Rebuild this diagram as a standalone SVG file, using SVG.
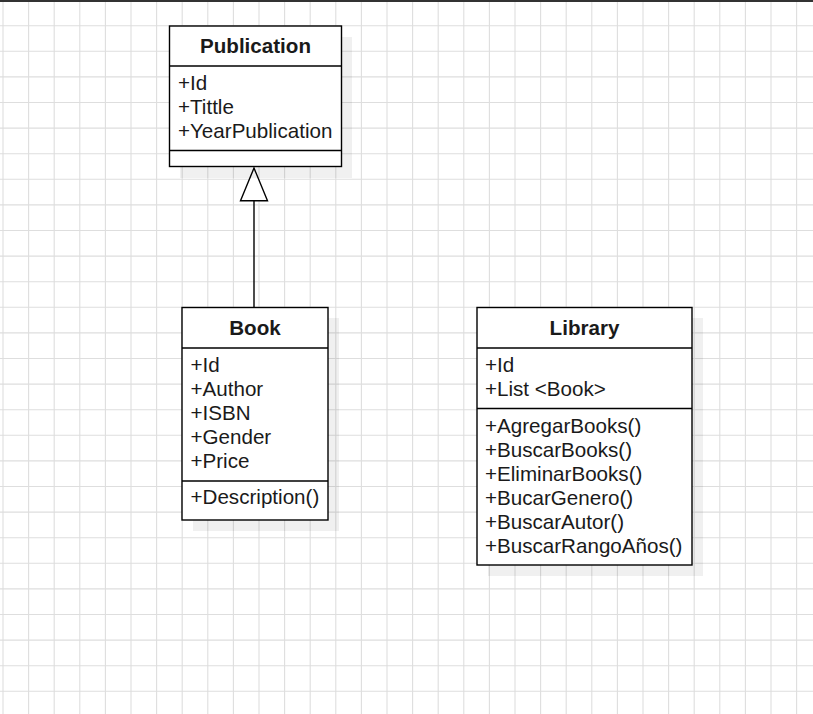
<svg xmlns="http://www.w3.org/2000/svg" width="813" height="714" viewBox="0 0 813 714">
<style>
.grid{fill:none;stroke:#dedede;stroke-width:1.1}
.box{fill:#fff;stroke:#000;stroke-width:1.4}
.sep{stroke:#000;stroke-width:1.4}
.shadow{fill:#000;fill-opacity:0.06}
.title{font-family:"Liberation Sans",Arial,sans-serif;font-size:20.6px;font-weight:bold;fill:#1a1a1a;text-anchor:middle}
.item{font-family:"Liberation Sans",Arial,sans-serif;font-size:20.6px;fill:#1a1a1a}
.edge{fill:none;stroke:#000;stroke-width:1.4}
</style>
<rect width="813" height="714" fill="#fff"/>
<path class="grid" d="M3 0V714M28.6 0V714M54.2 0V714M79.8 0V714M105.4 0V714M131 0V714M156.6 0V714M182.2 0V714M207.8 0V714M233.4 0V714M259 0V714M284.6 0V714M310.2 0V714M335.8 0V714M361.4 0V714M387 0V714M412.6 0V714M438.2 0V714M463.8 0V714M489.4 0V714M515 0V714M540.6 0V714M566.2 0V714M591.8 0V714M617.4 0V714M643 0V714M668.6 0V714M694.2 0V714M719.8 0V714M745.4 0V714M771 0V714M796.6 0V714M0 25.7H813M0 51.3H813M0 76.9H813M0 102.5H813M0 128.1H813M0 153.7H813M0 179.3H813M0 204.9H813M0 230.5H813M0 256.1H813M0 281.7H813M0 307.3H813M0 332.9H813M0 358.5H813M0 384.1H813M0 409.7H813M0 435.3H813M0 460.9H813M0 486.5H813M0 512.1H813M0 537.7H813M0 563.3H813M0 588.9H813M0 614.5H813M0 640.1H813M0 665.7H813M0 691.3H813"/>
<rect x="0" y="0" width="813" height="2" fill="#333"/>

<g id="connectors">
<line class="edge" x1="254" y1="307" x2="254" y2="200.7"/>
<polygon class="edge" points="254,168 240.5,200.7 267.5,200.7" style="fill:#fff"/>
</g>

<g id="publication">
<rect class="shadow" x="180" y="37" width="172" height="141"/>
<rect class="box" x="169.5" y="26" width="172" height="140.5"/>
<line class="sep" x1="169.5" y1="66" x2="341.5" y2="66"/>
<line class="sep" x1="169.5" y1="150.5" x2="341.5" y2="150.5"/>
<text class="title" x="255.5" y="53">Publication</text>
<text class="item" x="178" y="90">+Id</text>
<text class="item" x="178" y="114">+Tittle</text>
<text class="item" x="178" y="138">+YearPublication</text>
</g>

<g id="book">
<rect class="shadow" x="193" y="318" width="146" height="213"/>
<rect class="box" x="182" y="307.5" width="146" height="212.5"/>
<line class="sep" x1="182" y1="348" x2="328" y2="348"/>
<line class="sep" x1="182" y1="481" x2="328" y2="481"/>
<text class="title" x="255" y="335">Book</text>
<text class="item" x="190.5" y="371.7">+Id</text>
<text class="item" x="190.5" y="395.7">+Author</text>
<text class="item" x="190.5" y="419.7">+ISBN</text>
<text class="item" x="190.5" y="443.7">+Gender</text>
<text class="item" x="190.5" y="467.7">+Price</text>
<text class="item" x="190.5" y="504.3">+Description()</text>
</g>

<g id="library">
<rect class="shadow" x="488" y="318" width="215" height="258"/>
<rect class="box" x="477" y="307.5" width="215" height="257.5"/>
<line class="sep" x1="477" y1="348" x2="692" y2="348"/>
<line class="sep" x1="477" y1="408.5" x2="692" y2="408.5"/>
<text class="title" x="584.5" y="335">Library</text>
<text class="item" x="485" y="371.7">+Id</text>
<text class="item" x="485" y="395.7">+List &lt;Book&gt;</text>
<text class="item" x="485" y="433.3">+AgregarBooks()</text>
<text class="item" x="485" y="457.3">+BuscarBooks()</text>
<text class="item" x="485" y="481.3">+EliminarBooks()</text>
<text class="item" x="485" y="505.3">+BucarGenero()</text>
<text class="item" x="485" y="529.3">+BuscarAutor()</text>
<text class="item" x="485" y="553.3">+BuscarRangoAños()</text>
</g>
</svg>
